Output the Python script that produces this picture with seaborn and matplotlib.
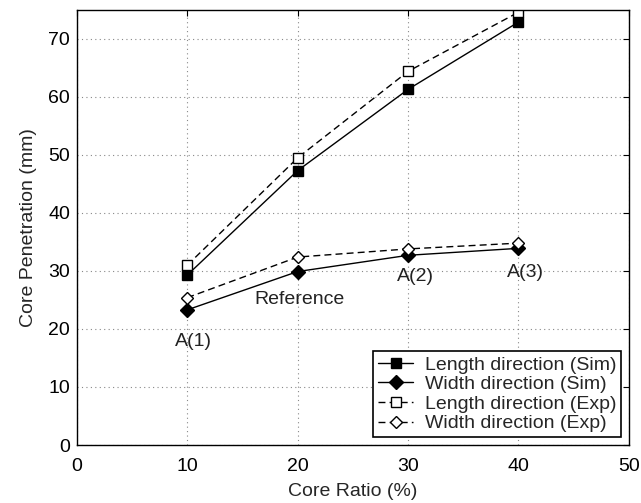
import matplotlib
matplotlib.use("Agg")
import matplotlib.pyplot as plt
import seaborn as sns
import pandas as pd

core_ratio = [10, 20, 30, 40]
length_sim = [29.3, 47.3, 61.3, 72.9]
width_sim = [23.3, 29.9, 32.7, 33.9]
length_exp = [31.0, 49.5, 64.4, 74.6]
width_exp = [25.4, 32.4, 33.8, 34.8]
labels = ["Length direction (Sim)", "Width direction (Sim)",
          "Length direction (Exp)", "Width direction (Exp)"]
annotations = [("A(1)", 10.6, 17.8), ("Reference", 20.2, 25.0),
               ("A(2)", 30.7, 29.0), ("A(3)", 40.6, 29.8)]

sns.set_style("white")
plt.rcParams['font.family'] = ['Liberation Sans', 'DejaVu Sans']
plt.rcParams['font.size'] = 14

fig = plt.figure(figsize=(6.41, 5.03), dpi=100)
ax = fig.add_axes([0.120, 0.1153, 0.861, 0.865])

styles = [
    (length_sim, dict(marker='s', ls='-', mfc='k', ms=7)),
    (width_sim, dict(marker='D', ls='-', mfc='k', ms=7)),
    (length_exp, dict(marker='s', ls=(0, (5, 3)), mfc='white', ms=7)),
    (width_exp, dict(marker='D', ls=(0, (5, 3)), mfc='white', ms=6.5)),
]
for (vals, st), lab in zip(styles, labels):
    df = pd.DataFrame({"x": core_ratio, "y": vals})
    sns.lineplot(data=df, x="x", y="y", ax=ax, color='k', lw=1,
                 marker=st['marker'], linestyle=st['ls'],
                 markerfacecolor=st['mfc'], markeredgecolor='k',
                 markersize=st['ms'], markeredgewidth=1, label=lab)

for txt, x, y in annotations:
    ax.text(x, y, txt, ha='center', va='center', fontsize=14, color='#222222')

ax.set_xlim(0, 50)
ax.set_ylim(0, 75)
ax.set_xticks([0, 10, 20, 30, 40, 50])
ax.set_yticks([0, 10, 20, 30, 40, 50, 60, 70])
ax.grid(True, linestyle=(0, (1, 3)), color='#888888', lw=0.8)
ax.tick_params(direction='in', top=True, right=True, length=4, width=0.8,
               labelsize=14, colors='k')
ax.tick_params(axis='x', pad=9)
ax.tick_params(axis='y', pad=5)
for s in ax.spines.values():
    s.set_visible(True)
    s.set_color('k')
    s.set_linewidth(1)
ax.set_xlabel("Core Ratio (%)", fontsize=14, labelpad=6)
ax.set_ylabel("Core Penetration (mm)", fontsize=14, labelpad=8)

leg = ax.legend(loc='lower right', fontsize=14, frameon=True, fancybox=False,
                edgecolor='k', framealpha=1, borderaxespad=0.4,
                handlelength=1.8, handletextpad=0.6, labelspacing=0.1,
                borderpad=0.25)
leg.get_frame().set_linewidth(1.2)

fig.savefig("out.png", dpi=100)
